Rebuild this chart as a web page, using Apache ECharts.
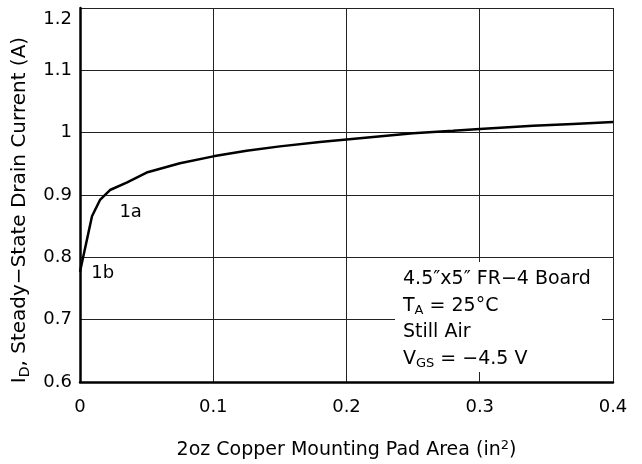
<!DOCTYPE html>
<html>
<head>
<meta charset="utf-8">
<script src="https://cdn.jsdelivr.net/npm/echarts@6/dist/echarts.min.js"></script>
<style>html,body{margin:0;padding:0;background:#fff}#c{width:642px;height:464px}</style>
</head>
<body>
<div id="c"></div>
<script>
// Data
const padArea = [0, 0.009, 0.015, 0.0225, 0.035, 0.05, 0.075, 0.1, 0.125, 0.15, 0.18, 0.2, 0.22, 0.25, 0.28, 0.3, 0.34, 0.37, 0.4];
const drainCurrent = [0.777, 0.866, 0.892, 0.908, 0.92, 0.936, 0.951, 0.962, 0.971, 0.978, 0.985, 0.989, 0.993, 0.999, 1.003, 1.006, 1.011, 1.014, 1.017];
const curveLabels = [
  { name: '1a', coord: [0.038, 0.873] },
  { name: '1b', coord: [0.017, 0.774] }
];
const xTicks = [0, 0.1, 0.2, 0.3, 0.4];
const yTicks = [0.6, 0.7, 0.8, 0.9, 1, 1.1, 1.2];

const FONT = 'DejaVu Sans, sans-serif';
const FS = 18;
const chart = echarts.init(document.getElementById('c'));
chart.setOption({
  animation: false,
  backgroundColor: '#fff',
  grid: { left: 80, right: 29, top: 8, bottom: 82, containLabel: false, outerBoundsMode: 'none' },
  xAxis: {
    type: 'value', min: xTicks[0], max: xTicks[xTicks.length - 1], interval: 0.1,
    name: '2oz Copper Mounting Pad Area (in{sup|2})',
    nameLocation: 'middle', nameGap: 57,
    nameTextStyle: { fontFamily: FONT, fontSize: 19, color: '#000',
      rich: { sup: { fontFamily: FONT, fontSize: 13, color: '#000', padding: [0, 0, 10, 0] } } },
    axisLine: { show: true, onZero: false, lineStyle: { color: '#000', width: 2.5 } },
    axisTick: { show: false },
    axisLabel: { fontFamily: FONT, fontSize: FS, color: '#000', margin: 16 },
    splitLine: { show: true, lineStyle: { color: '#222', width: 1 } }
  },
  yAxis: {
    type: 'value', min: yTicks[0], max: yTicks[yTicks.length - 1], interval: 0.1,
    name: '{i|I}{sub|D}, Steady\u2212State Drain Current (A)',
    nameLocation: 'middle', nameGap: 48,
    nameTextStyle: { fontFamily: FONT, fontSize: 20, color: '#000', padding: [0, 30, 0, 0],
      rich: {
        i: { fontFamily: FONT, fontSize: 20, color: '#000' },
        sub: { fontFamily: FONT, fontSize: 14, color: '#000', padding: [11, 0, 0, 0] }
      } },
    axisLine: { show: true, onZero: false, lineStyle: { color: '#000', width: 2.5 } },
    axisTick: { show: false },
    axisLabel: { fontFamily: FONT, fontSize: FS, color: '#000', margin: 8,
      formatter: v => (Math.abs(v - 1.2) < 1e-6 ? '{top|1.2}' : String(+v.toFixed(1))),
      rich: { top: { fontFamily: FONT, fontSize: FS, color: '#000', padding: [22, 0, 0, 0] } } },
    splitLine: { show: true, lineStyle: { color: '#222', width: 1 } }
  },
  series: [{
    type: 'line',
    data: padArea.map((x, i) => [x, drainCurrent[i]]),
    symbol: 'none',
    lineStyle: { color: '#000', width: 2.5 },
    markPoint: {
      symbol: 'circle', symbolSize: 0,
      label: { show: true, fontFamily: FONT, fontSize: FS, color: '#000', formatter: p => p.name },
      data: curveLabels.map(d => ({ name: d.name, coord: d.coord }))
    },
    z: 3
  }],
  graphic: [
    { type: 'rect', z: 100, silent: true, shape: { x: 395, y: 262, width: 207, height: 110 }, style: { fill: '#fff', stroke: null } },
    { type: 'text', z: 101, silent: true, x: 403, y: 266, style: {
        text: '4.5\u2033x5\u2033 FR\u22124 Board\n{n|T}{s|A}{n| = 25\u00b0C}\nStill Air\n{n|V}{s|GS}{n| = \u22124.5 V}',
        font: '19px ' + FONT, fill: '#000', lineHeight: 26.5,
        rich: {
          n: { fontFamily: FONT, fontSize: 19, fill: '#000', lineHeight: 26.5 },
          s: { fontFamily: FONT, fontSize: 13, fill: '#000', padding: [10, 0, 0, 0], lineHeight: 26.5 }
        }
    } }
  ]
});
</script>
</body>
</html>
